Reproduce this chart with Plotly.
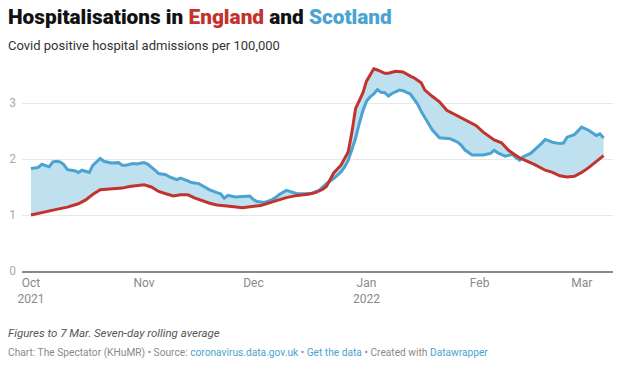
import plotly.graph_objects as go
import pandas as pd

start_date = "2021-10-01"

# England (red) – day offsets from 1 Oct 2021 and admissions per 100,000
england_days = [0, 4, 7, 10, 13, 15, 17, 19, 22, 25, 27, 29, 31, 33, 35, 37, 39, 41, 43, 45,
                47, 49, 51, 53, 55, 58, 61, 63, 66, 68, 70, 73, 76, 78, 80, 81, 83, 85, 87, 88,
                89, 91, 92, 94, 95, 97, 98, 100, 102, 104, 105, 107, 108, 110, 112, 114, 117,
                120, 122, 124, 127, 129, 131, 134, 136, 138, 141, 143, 145, 147, 149, 151, 153,
                155, 157]
england_values = [1.00, 1.05, 1.10, 1.14, 1.20, 1.27, 1.37, 1.45, 1.47, 1.48, 1.51, 1.53, 1.54,
                  1.50, 1.42, 1.38, 1.34, 1.36, 1.36, 1.30, 1.25, 1.21, 1.18, 1.16, 1.15, 1.13,
                  1.155, 1.17, 1.23, 1.27, 1.31, 1.35, 1.37, 1.40, 1.46, 1.51, 1.75, 1.89, 2.13,
                  2.48, 2.90, 3.18, 3.39, 3.61, 3.59, 3.53, 3.53, 3.565, 3.555, 3.48, 3.45, 3.36,
                  3.23, 3.12, 3.02, 2.87, 2.77, 2.68, 2.60, 2.48, 2.34, 2.29, 2.15, 2.02, 1.96,
                  1.905, 1.80, 1.76, 1.70, 1.68, 1.69, 1.76, 1.85, 1.95, 2.06]

# Scotland (blue)
scotland_days = [0, 1, 2, 3, 5, 6, 7, 8, 9, 10, 12, 13, 14, 16, 17, 19, 20, 22, 24, 25, 26, 28,
                 29, 31, 32, 34, 35, 37, 38, 40, 41, 43, 44, 46, 48, 49, 51, 52, 53, 54, 56, 58,
                 60, 61, 62, 64, 66, 67, 68, 70, 71, 73, 75, 77, 79, 81, 83, 85, 86, 87, 88, 89,
                 90, 91, 92, 93, 94, 95, 96, 97, 98, 99, 101, 102, 104, 106, 107, 108, 109, 110,
                 112, 113, 115, 117, 118, 119, 120, 121, 123, 124, 126, 127, 128, 129, 130, 132,
                 133, 134, 135, 137, 138, 140, 141, 143, 145, 146, 147, 149, 151, 153, 155, 156,
                 157]
scotland_values = [1.83, 1.84, 1.85, 1.905, 1.86, 1.95, 1.96, 1.95, 1.90, 1.81, 1.79, 1.76, 1.80,
                   1.76, 1.89, 2.01, 1.96, 1.93, 1.935, 1.89, 1.89, 1.92, 1.91, 1.935, 1.91, 1.80,
                   1.74, 1.72, 1.68, 1.63, 1.66, 1.61, 1.58, 1.56, 1.49, 1.45, 1.40, 1.38, 1.30,
                   1.35, 1.32, 1.335, 1.34, 1.275, 1.24, 1.225, 1.27, 1.31, 1.36, 1.44, 1.42, 1.38,
                   1.38, 1.39, 1.44, 1.56, 1.65, 1.77, 1.86, 1.98, 2.17, 2.37, 2.63, 2.86, 3.03,
                   3.11, 3.16, 3.24, 3.19, 3.185, 3.125, 3.17, 3.23, 3.22, 3.16, 2.98, 2.85, 2.74,
                   2.62, 2.52, 2.38, 2.375, 2.36, 2.30, 2.245, 2.16, 2.11, 2.07, 2.07, 2.07, 2.10,
                   2.155, 2.11, 2.08, 2.05, 2.08, 2.02, 1.98, 2.04, 2.10, 2.155, 2.28, 2.35, 2.30,
                   2.275, 2.285, 2.39, 2.435, 2.57, 2.51, 2.42, 2.45, 2.375]

tick_dates = ["2021-10-01", "2021-11-01", "2021-12-01", "2022-01-01", "2022-02-01", "2022-03-01"]
tick_labels = ["Oct<br>2021", "Nov", "Dec", "Jan<br>2022", "Feb", "Mar"]
y_ticks = [0, 1, 2, 3]

RED = "#c1332c"
BLUE = "#4aa3d0"
FILL = "#bfe0ee"

start = pd.Timestamp(start_date)
eng_x = [start + pd.Timedelta(days=d) for d in england_days]
sco_x = [start + pd.Timedelta(days=d) for d in scotland_days]

fig = go.Figure()
fig.add_trace(go.Scatter(
    x=sco_x + eng_x[::-1], y=scotland_values + england_values[::-1],
    fill="toself", fillcolor=FILL, line=dict(width=0), mode="lines",
    hoverinfo="skip", showlegend=False))
fig.add_trace(go.Scatter(x=sco_x, y=scotland_values, mode="lines",
                         line=dict(color=BLUE, width=3), name="Scotland", showlegend=False))
fig.add_trace(go.Scatter(x=eng_x, y=england_values, mode="lines",
                         line=dict(color=RED, width=3), name="England", showlegend=False))

W, H = 620, 373
L, R, T, B = 22, 7, 63, 102
pw, ph = W - L - R, H - T - B


def px(x):
    return (x - L) / pw


def py(y):
    return (H - B - y) / ph


FONT = "Roboto"
fig.update_layout(
    template="none",
    width=W, height=H,
    margin=dict(l=L, r=R, t=T, b=B, autoexpand=False),
    paper_bgcolor="white", plot_bgcolor="white",
    font=dict(family=FONT),
    xaxis=dict(
        type="date", automargin=False,
        range=[start - pd.Timedelta(hours=59), start + pd.Timedelta(hours=int(159.6 * 24))],
        tickvals=tick_dates, ticktext=tick_labels,
        showgrid=False, zeroline=False,
        showline=True, linecolor="#8a8a8a", linewidth=2,
        ticks="", tickfont=dict(family=FONT, size=12, color="#8a8a8a"),
        fixedrange=True,
    ),
    yaxis=dict(
        automargin=False,
        range=[0, ph / 56.0],
        tickvals=y_ticks, ticktext=[str(v) for v in y_ticks],
        showgrid=True, gridcolor="#e8e8e8", gridwidth=1,
        zeroline=False, showline=False, ticks="",
        tickfont=dict(family=FONT, size=12, color="#aaaaaa"),
        ticklabelstandoff=5,
        fixedrange=True,
    ),
)

annos = [
    dict(x=px(6), y=py(3), xanchor="left", yanchor="top",
         text=("Hospitalisations in <span style='color:%s'>England</span> and "
               "<span style='color:%s'>Scotland</span>") % (RED, BLUE),
         font=dict(family=FONT, size=20.8, color="#111111", weight=900)),
    dict(x=px(6), y=py(36), xanchor="left", yanchor="top",
         text="Covid positive hospital admissions per 100,000",
         font=dict(family=FONT, size=13, color="#333333")),
    dict(x=px(6), y=py(324), xanchor="left", yanchor="top",
         text="<i>Figures to 7 Mar. Seven-day rolling average</i>",
         font=dict(family=FONT, size=11.5, color="#555555")),
    dict(x=px(6), y=py(345), xanchor="left", yanchor="top",
         text=("Chart: The Spectator (KHuMR) • Source: <span style='color:%s'>coronavirus.data.gov.uk</span>"
               " • <span style='color:%s'>Get the data</span> • Created with "
               "<span style='color:%s'>Datawrapper</span>") % (BLUE, BLUE, BLUE),
         font=dict(family=FONT, size=10.2, color="#8a8a8a")),
]
for a in annos:
    a.update(xref="paper", yref="paper", showarrow=False, align="left")
fig.update_layout(annotations=annos)

fig.write_html("out.html", config={"displayModeBar": False},
               post_script="document.body.style.margin='0';document.body.style.overflow='hidden';")
